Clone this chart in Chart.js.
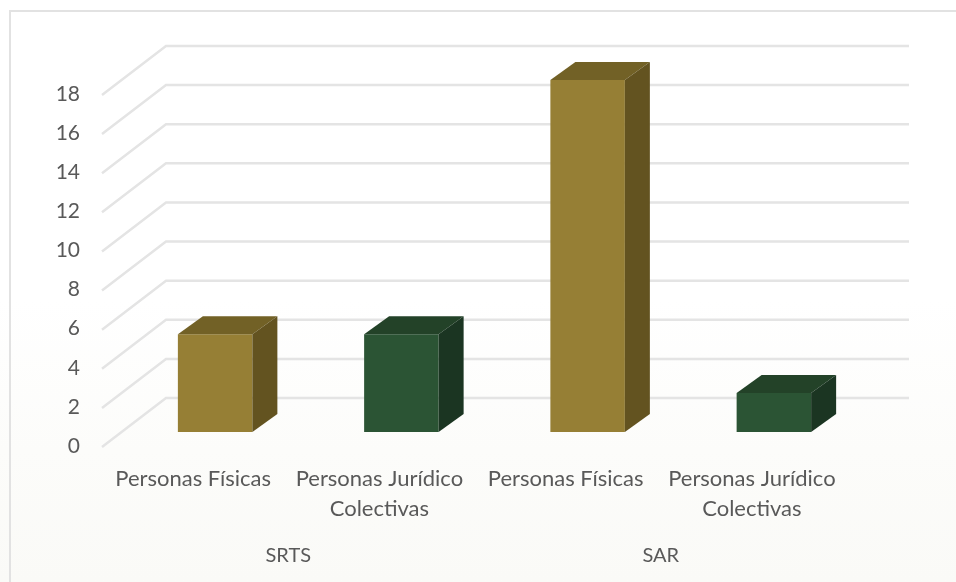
<!DOCTYPE html>
<html lang="en">
<head>
    <meta charset="UTF-8">
    <title>SRTS / SAR</title>
    <script src="https://cdn.jsdelivr.net/npm/chart.js"></script>
    <style>
        html, body { margin: 0; padding: 0; }
        body {
            width: 956px; height: 582px; overflow: hidden; position: relative;
            background: linear-gradient(to bottom, #ffffff 0, #ffffff 300px, #fcfcfa 450px, #fafaf7 582px);
        }
        .frame {
            position: absolute; left: 9px; top: 10px; right: 0; bottom: 0;
            border-top: 2px solid #e2e2e2; border-left: 2px solid #e2e2e2;
        }
        /* the reference is a slightly soft screenshot */
        canvas { position: absolute; left: 0; top: 0; filter: blur(0.5px); }
    </style>
</head>
<body>
    <div class="frame"></div>
    <canvas id="chart" width="956" height="582"></canvas>

    <script>
        const categories = ['Personas Físicas', ['Personas Jurídico', 'Colectivas'], 'Personas Físicas', ['Personas Jurídico', 'Colectivas']];
        const groups = ['SRTS', 'SAR'];
        const values = [5, 5, 18, 2];
        const yTicks = [0, 2, 4, 6, 8, 10, 12, 14, 16, 18];

        const frontColors = ['#967f35', '#2b5434', '#967f35', '#2b5434'];
        const topColors = ['#726126', '#234228', '#726126', '#234228'];
        const sideColors = ['#635320', '#1b3522', '#635320', '#1b3522'];

        const textColor = '#595959';
        const fontFamily = 'Lato, "Open Sans", sans-serif';

        // fake 3D: floor/walls are offset from the plane the bars stand on
        const barDepth = { dx: 25, dy: -18 };
        const wallFront = { dx: -20, dy: 15 };
        const wallBack = { dx: 44, dy: -34 };

        const fake3d = {
            id: 'fake3d',
            beforeDatasetsDraw(chart) {
                const { ctx, scales } = chart;
                ctx.save();
                ctx.strokeStyle = '#e4e4e4';
                ctx.lineWidth = 2.5;
                yTicks.forEach(v => {
                    const y = scales.y.getPixelForValue(v);
                    const x0 = scales.x.left;
                    const x1 = scales.x.right;
                    ctx.beginPath();
                    ctx.moveTo(x0 + wallFront.dx, y + wallFront.dy);
                    ctx.lineTo(x0 + wallBack.dx, y + wallBack.dy);
                    ctx.lineTo(x1 + wallBack.dx - 2, y + wallBack.dy);
                    ctx.stroke();
                });
                ctx.restore();
            },
            afterDatasetsDraw(chart) {
                const { ctx } = chart;
                const bars = chart.getDatasetMeta(0).data;
                ctx.save();
                bars.forEach((bar, i) => {
                    const l = bar.x - bar.width / 2;
                    const r = bar.x + bar.width / 2;
                    // top face
                    ctx.fillStyle = topColors[i];
                    ctx.beginPath();
                    ctx.moveTo(l, bar.y);
                    ctx.lineTo(l + barDepth.dx, bar.y + barDepth.dy);
                    ctx.lineTo(r + barDepth.dx, bar.y + barDepth.dy);
                    ctx.lineTo(r, bar.y);
                    ctx.closePath();
                    ctx.fill();
                    // side face
                    ctx.fillStyle = sideColors[i];
                    ctx.beginPath();
                    ctx.moveTo(r, bar.y);
                    ctx.lineTo(r + barDepth.dx, bar.y + barDepth.dy);
                    ctx.lineTo(r + barDepth.dx, bar.base + barDepth.dy);
                    ctx.lineTo(r, bar.base);
                    ctx.closePath();
                    ctx.fill();
                });
                ctx.restore();
            }
        };

        new Chart(document.getElementById('chart').getContext('2d'), {
            type: 'bar',
            data: {
                labels: categories,
                datasets: [{
                    data: values,
                    backgroundColor: frontColors,
                    barPercentage: 0.4,
                    categoryPercentage: 1
                }]
            },
            plugins: [fake3d],
            options: {
                responsive: false,
                animation: false,
                layout: { padding: { top: 80, right: 89, bottom: 0, left: 0 } },
                plugins: { legend: { display: false }, tooltip: { enabled: false } },
                scales: {
                    x: {
                        position: 'bottom',
                        grid: { display: false },
                        border: { display: false },
                        afterFit: s => { s.height = 100; },
                        ticks: {
                            color: textColor,
                            font: { family: fontFamily, size: 22, lineHeight: 1.36 },
                            autoSkip: false,
                            maxRotation: 0,
                            labelOffset: -22,
                            padding: 24
                        }
                    },
                    groups: {
                        type: 'category',
                        position: 'bottom',
                        axis: 'x',
                        labels: groups,
                        offset: true,
                        grid: { display: false },
                        border: { display: false },
                        afterFit: s => { s.height = 50; },
                        ticks: {
                            color: textColor,
                            font: { family: fontFamily, size: 20 },
                            maxRotation: 0,
                            labelOffset: -20,
                            padding: 4
                        }
                    },
                    y: {
                        min: 0,
                        max: 18,
                        grid: { display: false },
                        border: { display: false },
                        afterFit: s => { s.width = 122; },
                        ticks: {
                            stepSize: 2,
                            color: textColor,
                            font: { family: fontFamily, size: 21 },
                            labelOffset: 14,
                            padding: 34
                        }
                    }
                }
            }
        });
    </script>
</body>
</html>
